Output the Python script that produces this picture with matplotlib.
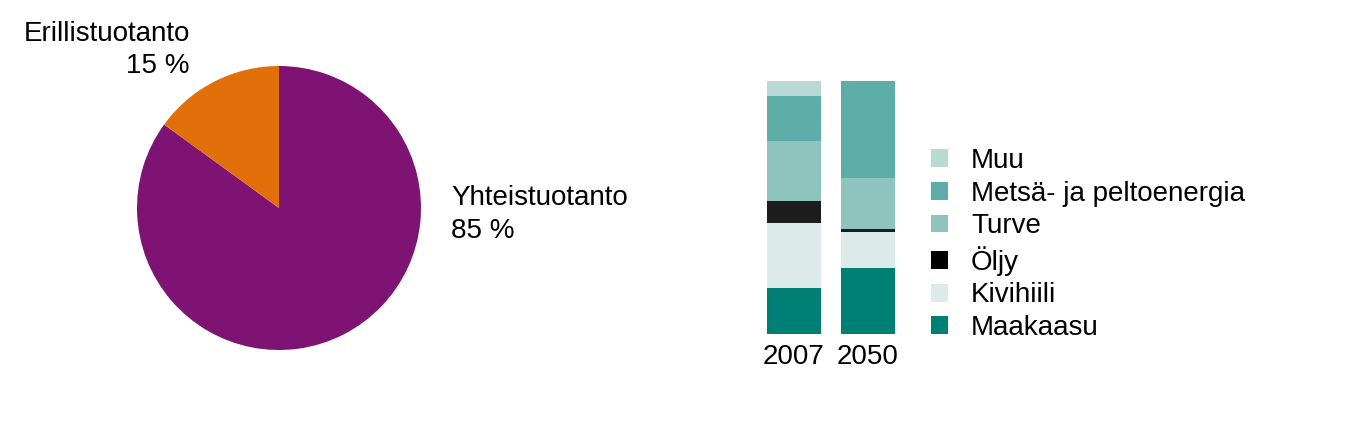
import matplotlib
matplotlib.use("Agg")
import matplotlib.pyplot as plt
from matplotlib.patches import Patch

plt.rcParams['font.family'] = ['Liberation Sans', 'DejaVu Sans']

# pie data
pie_labels = ['Yhteistuotanto', 'Erillistuotanto']
pie_shares = [85, 15]
pie_colors = ['#7f1373', '#e2700a']

# stacked bars, shares in %
years = ['2007', '2050']
sources = ['Maakaasu', 'Kivihiili', 'Öljy', 'Turve', 'Metsä- ja peltoenergia', 'Muu']
maakaasu = [18.2, 26.1]
kivihiili = [25.7, 14.2]
oljy = [8.7, 1.2]
turve = [23.7, 20.2]
metsa = [17.8, 38.3]
muu = [5.9, 0.0]
bar_colors = ['#008075', '#dceaea', '#1c1c1c', '#8fc3bd', '#5fada8', '#b9d9d4']
legend_colors = ['#008075', '#dceaea', '#000000', '#8fc3bd', '#5fada8', '#b9d9d4']

W, H = 1350, 437
fig = plt.figure(figsize=(W / 100, H / 100), dpi=100)

def px_axes(x0, y0, x1, y1):
    # pixel box (top-left origin) -> figure fraction axes
    return fig.add_axes([x0 / W, 1 - y1 / H, (x1 - x0) / W, (y1 - y0) / H])

# --- pie ---
cx, cy, r = 279, 208, 142
axp = px_axes(cx - r, cy - r, cx + r, cy + r)
axp.pie(pie_shares, colors=pie_colors, startangle=90, counterclock=False,
        radius=1, wedgeprops=dict(linewidth=0))
axp.set_xlim(-1, 1)
axp.set_ylim(-1, 1)
axp.set_aspect('auto')
axp.axis('off')

fs = 20
axp.text(-1.80, 1.176, pie_labels[1], fontsize=fs, ha='left', va='baseline')
axp.text(-0.627, 0.951, f'{pie_shares[1]} %', fontsize=fs, ha='right', va='baseline')
axp.text(1.211, 0.021, pie_labels[0], fontsize=fs, ha='left', va='baseline')
axp.text(1.211, -0.211, f'{pie_shares[0]} %', fontsize=fs, ha='left', va='baseline')

# --- stacked bars ---
axb = px_axes(757, 81, 905, 334)
series = [maakaasu, kivihiili, oljy, turve, metsa, muu]
bottom = [0.0, 0.0]
x = range(len(years))
for vals, col in zip(series, bar_colors):
    axb.bar(x, vals, bottom=bottom, width=0.73, color=col, linewidth=0)
    bottom = [b + v for b, v in zip(bottom, vals)]
axb.set_xlim(-0.5, 1.5)
axb.set_ylim(0, 100)
axb.set_xticks(list(x))
axb.set_xticklabels(years, fontsize=fs)
axb.tick_params(axis='x', length=0, pad=7)
axb.set_yticks([])
for s in axb.spines.values():
    s.set_visible(False)

handles = [Patch(facecolor=c, edgecolor='none', label=l)
           for l, c in zip(sources, legend_colors)][::-1]
fig.legend(handles=handles, loc='center left',
           bbox_to_anchor=(931 / W, 1 - 244.5 / H), bbox_transform=fig.transFigure,
           frameon=False, fontsize=fs, borderpad=0, borderaxespad=0,
           handlelength=0.61, handleheight=0.61, handletextpad=0.83,
           labelspacing=0.24)

fig.savefig('out.png', dpi=100)
